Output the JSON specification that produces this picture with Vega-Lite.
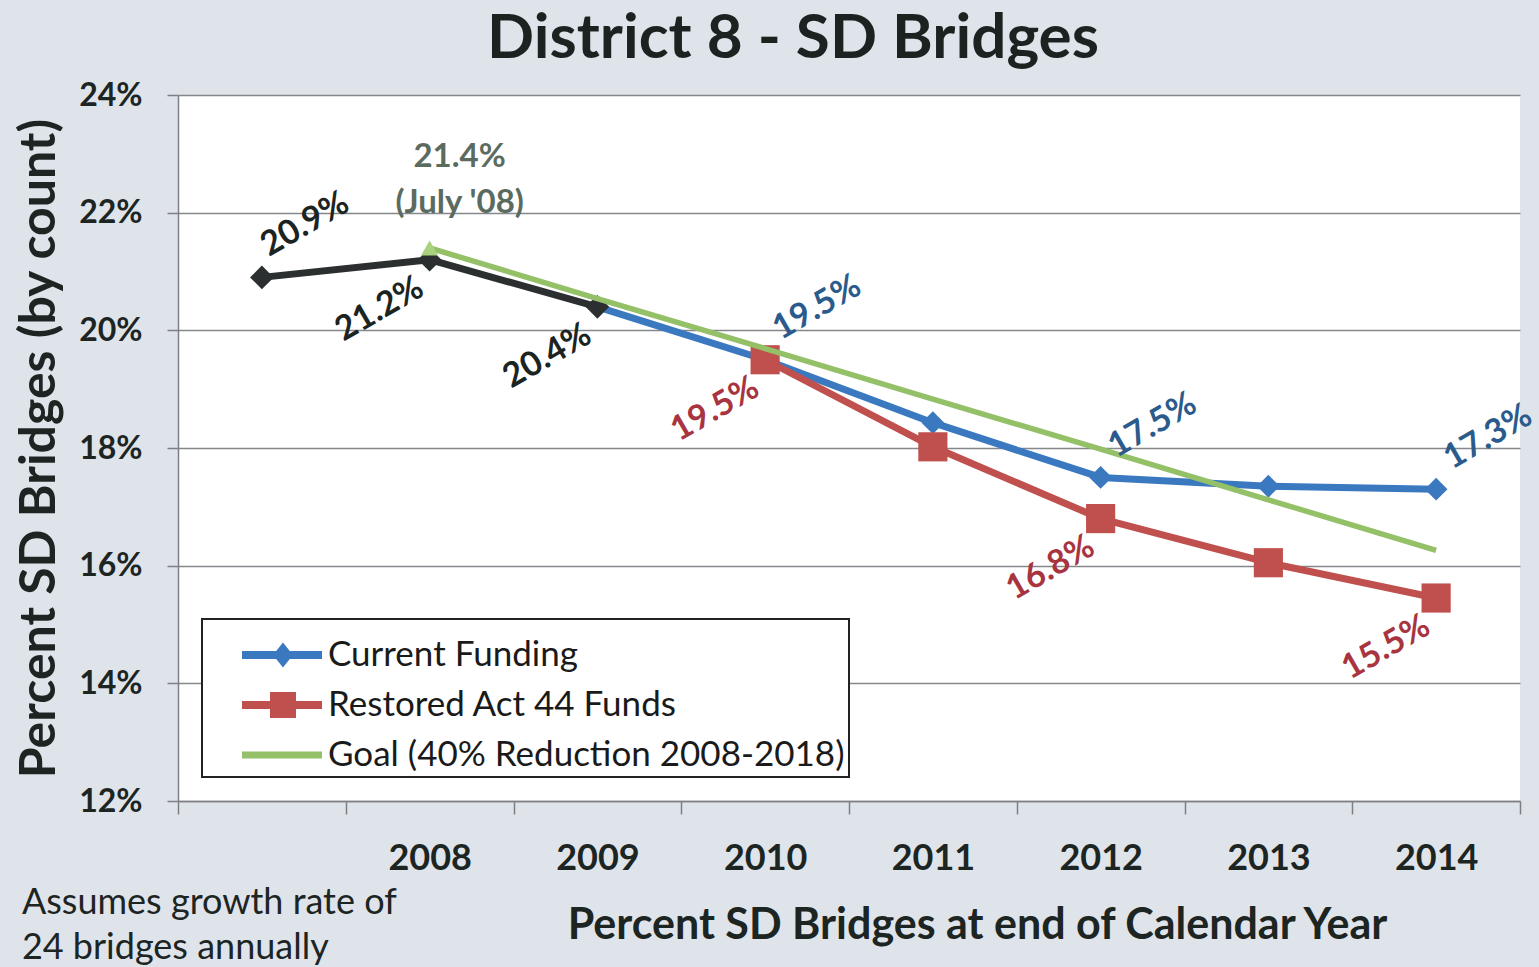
{
  "$schema": "https://vega.github.io/schema/vega-lite/v6.json",
  "background": "#dfe4eb",
  "autosize": {"type": "none"},
  "padding": {"left": 178, "top": 95, "right": 19, "bottom": 166},
  "width": 1342,
  "height": 706,
  "title": {
    "text": "District 8 - SD Bridges",
    "font": "Lato",
    "fontSize": 62,
    "fontWeight": "bold",
    "color": "#1b2321",
    "anchor": "middle",
    "frame": "group",
    "dx": -56,
    "offset": 8
  },
  "datasets": {
    "pts": [
      {"series": "Actual", "year": 2007, "pct": 20.9, "label": "20.9%"},
      {"series": "Actual", "year": 2008, "pct": 21.2, "label": "21.2%"},
      {"series": "Actual", "year": 2009, "pct": 20.4, "label": "20.4%"},
      {"series": "Current Funding", "year": 2009, "pct": 20.4, "label": ""},
      {"series": "Current Funding", "year": 2010, "pct": 19.5, "label": "19.5%"},
      {"series": "Current Funding", "year": 2011, "pct": 18.43, "label": ""},
      {"series": "Current Funding", "year": 2012, "pct": 17.5, "label": "17.5%"},
      {"series": "Current Funding", "year": 2013, "pct": 17.35, "label": ""},
      {"series": "Current Funding", "year": 2014, "pct": 17.3, "label": "17.3%"},
      {"series": "Restored Act 44 Funds", "year": 2010, "pct": 19.5, "label": "19.5%"},
      {"series": "Restored Act 44 Funds", "year": 2011, "pct": 18.02, "label": ""},
      {"series": "Restored Act 44 Funds", "year": 2012, "pct": 16.8, "label": "16.8%"},
      {"series": "Restored Act 44 Funds", "year": 2013, "pct": 16.05, "label": ""},
      {"series": "Restored Act 44 Funds", "year": 2014, "pct": 15.45, "label": "15.5%"},
      {"series": "Goal (40% Reduction 2008-2018)", "year": 2008, "pct": 21.4, "label": "21.4%\n(July '08)"},
      {"series": "Goal (40% Reduction 2008-2018)", "year": 2009, "pct": 20.54, "label": ""},
      {"series": "Goal (40% Reduction 2008-2018)", "year": 2010, "pct": 19.69, "label": ""},
      {"series": "Goal (40% Reduction 2008-2018)", "year": 2011, "pct": 18.83, "label": ""},
      {"series": "Goal (40% Reduction 2008-2018)", "year": 2012, "pct": 17.98, "label": ""},
      {"series": "Goal (40% Reduction 2008-2018)", "year": 2013, "pct": 17.12, "label": ""},
      {"series": "Goal (40% Reduction 2008-2018)", "year": 2014, "pct": 16.26, "label": ""}
    ]
  },
  "data": {"name": "pts"},
  "encoding": {
    "x": {
      "field": "year",
      "type": "quantitative",
      "scale": {"domain": [2006.5, 2014.5], "nice": false, "zero": false},
      "axis": {
        "values": [2006.5, 2007.5, 2008.5, 2009.5, 2010.5, 2011.5, 2012.5, 2013.5, 2014.5],
        "labelExpr": "datum.value > 2007 && datum.value < 2014 ? format(datum.value + 0.5, 'd') : ''",
        "labelOffset": 84,
        "labelOverlap": false,
        "labelBound": false,
        "labelFlush": false,
        "labelFont": "Lato",
        "labelFontSize": 36,
        "labelFontWeight": "bold",
        "labelColor": "#1d2523",
        "labelPadding": 27,
        "tickSize": 13,
        "tickColor": "#7d7f84",
        "tickWidth": 1.5,
        "domainColor": "#7d7f84",
        "domainWidth": 1.5,
        "grid": false,
        "title": "Percent SD Bridges at end of Calendar Year",
        "titleFont": "Lato",
        "titleFontSize": 43,
        "titleFontWeight": "bold",
        "titleColor": "#1d2523",
        "titleX": 799,
        "titlePadding": 28
      }
    },
    "y": {
      "field": "pct",
      "type": "quantitative",
      "scale": {"domain": [12, 24], "nice": false, "zero": false},
      "axis": {
        "values": [12, 14, 16, 18, 20, 22, 24],
        "labelExpr": "datum.value + '%'",
        "labelFont": "Lato",
        "labelFontSize": 32,
        "labelFontWeight": "bold",
        "labelColor": "#1d2523",
        "labelPadding": 25,
        "tickSize": 11,
        "tickColor": "#7d7f84",
        "tickWidth": 1.5,
        "domainColor": "#7d7f84",
        "domainWidth": 1.5,
        "grid": true,
        "gridColor": "#85878b",
        "gridWidth": 1.5,
        "title": "Percent SD Bridges (by count)",
        "titleFont": "Lato",
        "titleFontSize": 50,
        "titleFontWeight": "bold",
        "titleColor": "#1d2523",
        "titlePadding": 14
      }
    },
    "color": {
      "field": "series",
      "type": "nominal",
      "scale": {
        "domain": ["Actual", "Current Funding", "Restored Act 44 Funds", "Goal (40% Reduction 2008-2018)"],
        "range": ["#2b2f30", "#3a78c0", "#c0504d", "#94c068"]
      },
      "legend": null
    }
  },
  "layer": [
    {
      "transform": [{"filter": "datum.series == 'Current Funding'"}],
      "mark": {"type": "line", "strokeWidth": 7, "strokeJoin": "round"}
    },
    {
      "transform": [{"filter": "datum.series == 'Current Funding' && datum.year >= 2010"}],
      "mark": {"type": "point", "shape": "diamond", "filled": true, "size": 520, "opacity": 1}
    },
    {
      "transform": [{"filter": "datum.series == 'Restored Act 44 Funds'"}],
      "mark": {"type": "line", "strokeWidth": 7, "strokeJoin": "round"}
    },
    {
      "transform": [{"filter": "datum.series == 'Restored Act 44 Funds'"}],
      "mark": {"type": "point", "shape": "square", "filled": true, "size": 850, "opacity": 1}
    },
    {
      "transform": [{"filter": "datum.series == 'Actual'"}],
      "mark": {"type": "line", "strokeWidth": 7, "strokeJoin": "round"}
    },
    {
      "transform": [{"filter": "datum.series == 'Actual'"}],
      "mark": {"type": "point", "shape": "diamond", "filled": true, "size": 560, "opacity": 1}
    },
    {
      "transform": [{"filter": "datum.series == 'Goal (40% Reduction 2008-2018)'"}],
      "mark": {"type": "line", "strokeWidth": 5.5, "strokeJoin": "round"}
    },
    {
      "transform": [{"filter": "datum.series == 'Goal (40% Reduction 2008-2018)' && datum.year == 2008"}],
      "mark": {"type": "point", "shape": "triangle-up", "filled": true, "size": 300, "opacity": 1},
      "encoding": {"color": {"value": "#a9d27e"}}
    },
    {
      "transform": [{"filter": "datum.series == 'Actual' && datum.year == 2007"}],
      "mark": {"type": "text", "angle": -30, "dx": 64, "dy": -24, "align": "center", "baseline": "middle", "font": "Lato", "fontSize": 34, "fontWeight": "bold"},
      "encoding": {"text": {"field": "label"}, "color": {"value": "#1c2422"}}
    },
    {
      "transform": [{"filter": "datum.series == 'Actual' && datum.year > 2007"}],
      "mark": {"type": "text", "angle": -30, "dx": -68, "dy": 18, "align": "center", "baseline": "middle", "font": "Lato", "fontSize": 34, "fontWeight": "bold"},
      "encoding": {"text": {"field": "label"}, "color": {"value": "#1c2422"}}
    },
    {
      "transform": [{"filter": "datum.series == 'Current Funding' && datum.label != ''"}],
      "mark": {"type": "text", "angle": -30, "dx": 71, "dy": -19, "align": "center", "baseline": "middle", "font": "Lato", "fontSize": 34, "fontWeight": "bold"},
      "encoding": {"text": {"field": "label"}, "color": {"value": "#2a5b8c"}}
    },
    {
      "transform": [{"filter": "datum.series == 'Restored Act 44 Funds' && datum.label != ''"}],
      "mark": {"type": "text", "angle": -30, "dx": -68, "dy": 18, "align": "center", "baseline": "middle", "font": "Lato", "fontSize": 34, "fontWeight": "bold"},
      "encoding": {"text": {"field": "label"}, "color": {"value": "#a8343f"}}
    },
    {
      "transform": [{"filter": "datum.series == 'Goal (40% Reduction 2008-2018)' && datum.label != ''"}],
      "mark": {"type": "text", "lineBreak": "\n", "lineHeight": 46, "dx": 30, "dy": -74, "align": "center", "baseline": "bottom", "font": "Lato", "fontSize": 33, "fontWeight": "bold"},
      "encoding": {"text": {"field": "label"}, "color": {"value": "#5b6b5f"}}
    },
    {
      "transform": [{"filter": "datum.series == 'Actual' && datum.year == 2007"}],
      "mark": {"type": "text", "dx": -240, "dy": 637, "lineHeight": 45, "align": "left", "baseline": "alphabetic", "font": "Lato", "fontSize": 36, "fontWeight": "normal"},
      "encoding": {
        "text": {"value": ["Assumes growth rate of", "24 bridges annually"]},
        "color": {"value": "#1d2523"}
      }
    },
    {
      "transform": [{"filter": "datum.series != 'Actual' && datum.year == 2014"}],
      "mark": {"type": "point", "filled": true, "opacity": 0},
      "encoding": {
        "shape": {
          "field": "series",
          "type": "nominal",
          "scale": {
            "domain": ["Current Funding", "Restored Act 44 Funds", "Goal (40% Reduction 2008-2018)"],
            "range": [
              "M0.125,-0.125H2.625V0.125H0.125Z M1.406,-0.39L1.719,0L1.406,0.39L1.094,0Z",
              "M0.125,-0.125H2.625V0.125H0.125Z M1.0,-0.406H1.8125V0.406H1.0Z",
              "M0.125,-0.11H2.625V0.11H0.125Z"
            ]
          },
          "legend": {
            "title": null,
            "orient": "bottom-left",
            "offset": 24,
            "values": ["Current Funding", "Restored Act 44 Funds", "Goal (40% Reduction 2008-2018)"],
            "symbolSize": 4096,
            "symbolStrokeWidth": 0,
            "symbolOpacity": 1,
            "symbolFillColor": {"expr": "scale('color', datum.value)"},
            "labelFont": "Lato",
            "labelFontSize": 35,
            "labelColor": "#1a1a1a",
            "labelOffset": 58,
            "labelLimit": 900,
            "rowPadding": 0,
            "padding": 4,
            "fillColor": "white",
            "strokeColor": "#222222"
          }
        }
      }
    }
  ],
  "config": {
    "view": {"fill": "white", "stroke": null},
    "legend": {"strokeWidth": 2}
  }
}
